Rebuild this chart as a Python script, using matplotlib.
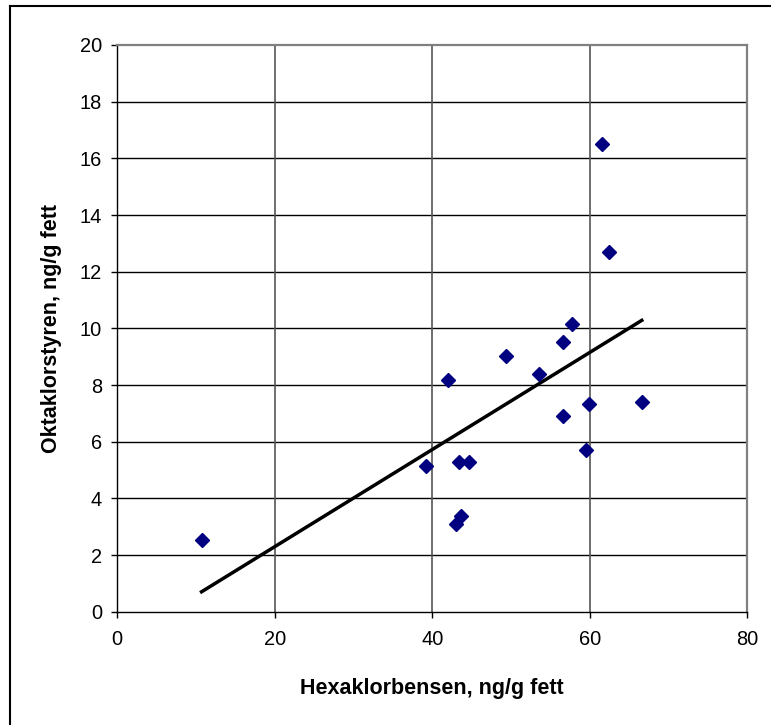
import numpy as np
import matplotlib
matplotlib.use('Agg')
import matplotlib.pyplot as plt
from matplotlib.lines import Line2D

# Data
hexaklorbensen = [10.7, 39.2, 42.0, 43.4, 44.7, 43.7, 43.0, 49.3, 53.6,
                  56.6, 57.7, 56.6, 59.9, 59.5, 66.6, 61.5, 62.5]
oktaklorstyren = [2.52, 5.14, 8.18, 5.27, 5.27, 3.39, 3.09, 9.03, 8.39,
                  9.53, 10.16, 6.91, 7.33, 5.71, 7.41, 16.50, 12.69]

x_ticks = [0, 20, 40, 60, 80]
y_ticks = [0, 2, 4, 6, 8, 10, 12, 14, 16, 18, 20]

plt.rcParams['font.family'] = ['Liberation Sans', 'DejaVu Sans']

fig = plt.figure(figsize=(7.71, 7.25), dpi=100)
ax = fig.add_axes([117.3 / 771, 113.3 / 725, 630 / 771, 566.7 / 725])

x = np.array(hexaklorbensen)
y = np.array(oktaklorstyren)

# Linear trend line (least squares), drawn between min and max x
k, m = np.polyfit(x, y, 1)
xl = np.array([x.min(), x.max()])
ax.plot(xl, k * xl + m, color='black', lw=2.5, zorder=3)

ax.plot(x, y, linestyle='none', marker='D', markersize=7,
        color='#000080', markeredgecolor='#000080', zorder=4)

ax.set_xlim(0, 80)
ax.set_ylim(0, 20)
ax.set_xticks(x_ticks)
ax.set_yticks(y_ticks)

# Gridlines: horizontal black, vertical grey
for yv in y_ticks[1:-1]:
    ax.axhline(yv, color='black', lw=1.0, zorder=1)
for xv in x_ticks[1:-1]:
    ax.axvline(xv, color='#555555', lw=1.2, zorder=1)

ax.spines['left'].set_color('black')
ax.spines['bottom'].set_color('black')
ax.spines['left'].set_linewidth(1.0)
ax.spines['bottom'].set_linewidth(1.0)
ax.spines['top'].set_color('#808080')
ax.spines['right'].set_color('#808080')
ax.spines['top'].set_linewidth(1.6)
ax.spines['right'].set_linewidth(1.6)

ax.tick_params(axis='both', direction='out', length=4, width=1.0,
               labelsize=14.4, colors='black')
ax.tick_params(axis='y', pad=7)
ax.tick_params(axis='x', pad=9)

ax.set_xlabel('Hexaklorbensen, ng/g fett', fontsize=15.5, fontweight='bold',
              labelpad=21)
ax.set_ylabel('Oktaklorstyren, ng/g fett', fontsize=15.5, fontweight='bold',
              labelpad=13)

# Outer chart border (top and left visible)
fig.add_artist(Line2D([9.5 / 771, 1], [1 - 6 / 725, 1 - 6 / 725],
                      transform=fig.transFigure, color='black', lw=1.5))
fig.add_artist(Line2D([9.5 / 771, 9.5 / 771], [0, 1 - 6 / 725],
                      transform=fig.transFigure, color='black', lw=1.5))

fig.savefig('out.png', dpi=100)
